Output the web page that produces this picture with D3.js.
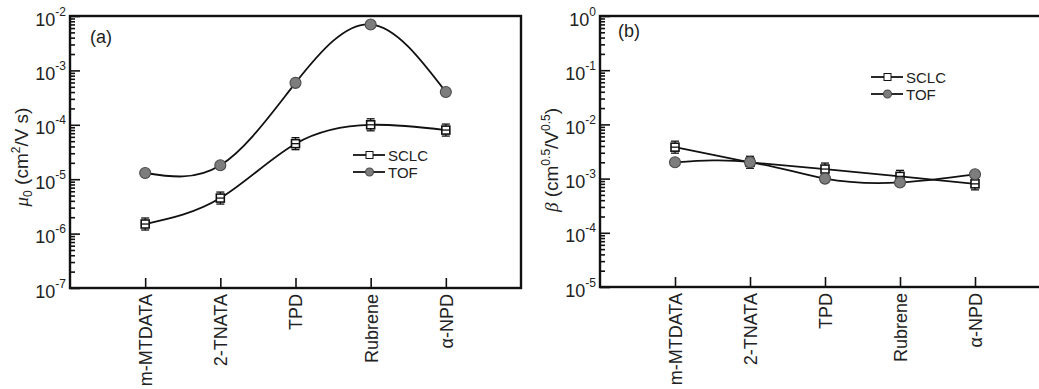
<!DOCTYPE html>
<html lang="en">
<head>
    <meta charset="UTF-8">
    <title>Mobility and beta comparison</title>
    <script src="https://d3js.org/d3.v7.min.js"></script>
    <style>
        body {
            margin: 0;
            background: #fff;
            font-family: "Liberation Sans", Arial, sans-serif;
        }
        .tick line { stroke: #111; stroke-width: 1.6px; }
        .frame { fill: none; stroke: #111; stroke-width: 2.4px; }
        .curve { fill: none; stroke: #111; stroke-width: 1.8px; }
        .lbl { font-size: 18px; fill: #222; }
        .ttl { font-size: 19px; fill: #222; }
        .leg { font-size: 15px; fill: #222; }
    </style>
</head>
<body>
<div id="chart"></div>
<script>
    // --- data ---
    const materials = ["m-MTDATA", "2-TNATA", "TPD", "Rubrene", "\u03b1-NPD"];

    const muSCLC = [1.5e-6, 4.5e-6, 4.5e-5, 1.0e-4, 8.0e-5];
    const muTOF = [1.3e-5, 1.8e-5, 5.9e-4, 7.0e-3, 4.0e-4];

    const betaSCLC = [3.8e-3, 2.0e-3, 1.5e-3, 1.1e-3, 8.0e-4];
    const betaTOF = [2.0e-3, 2.0e-3, 1.0e-3, 8.5e-4, 1.2e-3];

    const muTicks = [1e-7, 1e-6, 1e-5, 1e-4, 1e-3, 1e-2];
    const betaTicks = [1e-5, 1e-4, 1e-3, 1e-2, 1e-1, 1e0];

    const width = 1039, height = 389;

    const svg = d3.select("#chart").append("svg")
        .attr("width", width)
        .attr("height", height);

    function minorTicks(majors) {
        const out = [];
        for (let i = 0; i < majors.length - 1; i++) {
            for (let k = 2; k <= 9; k++) out.push(majors[i] * k);
        }
        return out;
    }

    function drawSquare(g, cx, cy, s) {
        // hollow square with a small error bar through it
        const ln = (x1, y1, x2, y2) => g.append("line")
            .attr("x1", x1).attr("y1", y1).attr("x2", x2).attr("y2", y2)
            .attr("stroke", "#111").attr("stroke-width", 1.3);
        ln(cx, cy - 6, cx, cy + 6);
        ln(cx - 4, cy - 6, cx + 4, cy - 6);
        ln(cx - 4, cy + 6, cx + 4, cy + 6);
        g.append("rect").attr("x", cx - s / 2).attr("y", cy - s / 2)
            .attr("width", s).attr("height", s)
            .attr("fill", "#fff").attr("stroke", "#111").attr("stroke-width", 1.6);
        ln(cx - s / 2, cy, cx + s / 2, cy);
    }

    function drawCircle(g, cx, cy, r) {
        g.append("circle").attr("cx", cx).attr("cy", cy).attr("r", r)
            .attr("fill", "#7d7d7d").attr("stroke", "#4a4a4a").attr("stroke-width", 1.1);
    }

    function drawPanel(opt) {
        const { left, top, right, bottom } = opt.box;

        const x = d3.scaleLinear().domain([0, materials.length + 1]).range([left, right]);
        const y = d3.scaleLog().domain([opt.ticks[0], opt.ticks[opt.ticks.length - 1]]).range([bottom, top]);

        const g = svg.append("g");

        // minor y ticks (inside)
        g.append("g")
            .attr("transform", `translate(${left},0)`)
            .call(d3.axisLeft(y).tickValues(minorTicks(opt.ticks)).tickSize(-5).tickFormat(""))
            .call(a => a.select(".domain").remove());

        // major y ticks
        const yAx = g.append("g")
            .attr("transform", `translate(${left},0)`)
            .call(d3.axisLeft(y).tickValues(opt.ticks).tickSize(-10).tickFormat(""))
            .call(a => a.select(".domain").remove());

        yAx.selectAll(".tick").each(function (d) {
            const t = d3.select(this).append("text")
                .attr("class", "lbl")
                .attr("x", -4)
                .attr("y", 9)
                .attr("text-anchor", "end")
                .attr("fill", "#222");
            t.append("tspan").text("10");
            t.append("tspan").attr("dy", -10).attr("font-size", 12).text(Math.round(Math.log10(d)));
        });

        // x ticks
        const xAx = g.append("g")
            .attr("transform", `translate(0,${bottom})`)
            .call(d3.axisBottom(x).tickValues(materials.map((m, i) => i + 1)).tickSize(-10).tickFormat(""))
            .call(a => a.select(".domain").remove());

        xAx.selectAll(".tick").append("text")
            .attr("class", "lbl")
            .attr("fill", "#222")
            .attr("transform", "translate(0,6) rotate(-90)")
            .attr("dy", "0.36em")
            .attr("text-anchor", "end")
            .text((d) => materials[d - 1]);

        // frame
        g.append("rect").attr("class", "frame")
            .attr("x", left).attr("y", top)
            .attr("width", right - left).attr("height", bottom - top);

        // curves
        const line = (curve) => d3.line()
            .x((d, i) => x(i + 1))
            .y(d => y(d))
            .curve(curve);

        g.append("path").attr("class", "curve").attr("d", line(opt.sclcCurve)(opt.sclc));
        g.append("path").attr("class", "curve").attr("d", line(d3.curveNatural)(opt.tof));

        // markers
        opt.sclc.forEach((v, i) => drawSquare(g, x(i + 1), y(v), 8));
        opt.tof.forEach((v, i) => drawCircle(g, x(i + 1), y(v), 5.5));

        // panel label
        g.append("text").attr("class", "lbl")
            .attr("x", opt.tag[1]).attr("y", opt.tag[2])
            .text(opt.tag[0]);

        // legend
        const [lx, ly] = opt.legend;
        [["SCLC", "sq"], ["TOF", "ci"]].forEach(([name, kind], i) => {
            const yy = ly + i * 17;
            g.append("line").attr("x1", lx).attr("x2", lx + 32).attr("y1", yy).attr("y2", yy)
                .attr("stroke", "#111").attr("stroke-width", 1.8);
            if (kind === "sq") {
                g.append("rect").attr("x", lx + 13).attr("y", yy - 3.5).attr("width", 7).attr("height", 7)
                    .attr("fill", "#fff").attr("stroke", "#111").attr("stroke-width", 1);
            } else {
                drawCircle(g, lx + 16.5, yy, 4);
            }
            g.append("text").attr("class", "leg")
                .attr("x", lx + 35).attr("y", yy + 5.5)
                .text(name);
        });

        // y title
        const tt = g.append("text").attr("class", "ttl")
            .attr("transform", `translate(${opt.titleX},${opt.titleY}) rotate(-90)`)
            .attr("text-anchor", "middle");
        opt.title(tt);
    }

    drawPanel({
        box: { left: 70, top: 16, right: 521, bottom: 288 },
        ticks: muTicks,
        sclc: muSCLC,
        tof: muTOF,
        sclcCurve: d3.curveNatural,
        tag: ["(a)", 90, 43],
        legend: [353, 155],
        titleX: 28,
        titleY: 157,
        title: (t) => {
            t.append("tspan").attr("font-family", "'Liberation Serif', serif").attr("font-style", "italic").text("\u03bc");
            t.append("tspan").attr("font-size", 12).attr("dy", 4).text("0");
            t.append("tspan").attr("dy", -4).text(" (cm");
            t.append("tspan").attr("font-size", 12).attr("dy", -8).text("2");
            t.append("tspan").attr("dy", 8).text("/V s)");
        }
    });

    drawPanel({
        box: { left: 600, top: 16, right: 1050, bottom: 287 },
        ticks: betaTicks,
        sclc: betaSCLC,
        tof: betaTOF,
        sclcCurve: d3.curveLinear,
        tag: ["(b)", 618, 37],
        legend: [871, 77],
        titleX: 558,
        titleY: 160,
        title: (t) => {
            t.append("tspan").attr("font-family", "'Liberation Serif', serif").attr("font-style", "italic").text("\u03b2");
            t.append("tspan").text(" (cm");
            t.append("tspan").attr("font-size", 12).attr("dy", -8).text("0.5");
            t.append("tspan").attr("dy", 8).text("/V");
            t.append("tspan").attr("font-size", 12).attr("dy", -8).text("0.5");
            t.append("tspan").attr("dy", 8).text(")");
        }
    });
</script>
</body>
</html>
